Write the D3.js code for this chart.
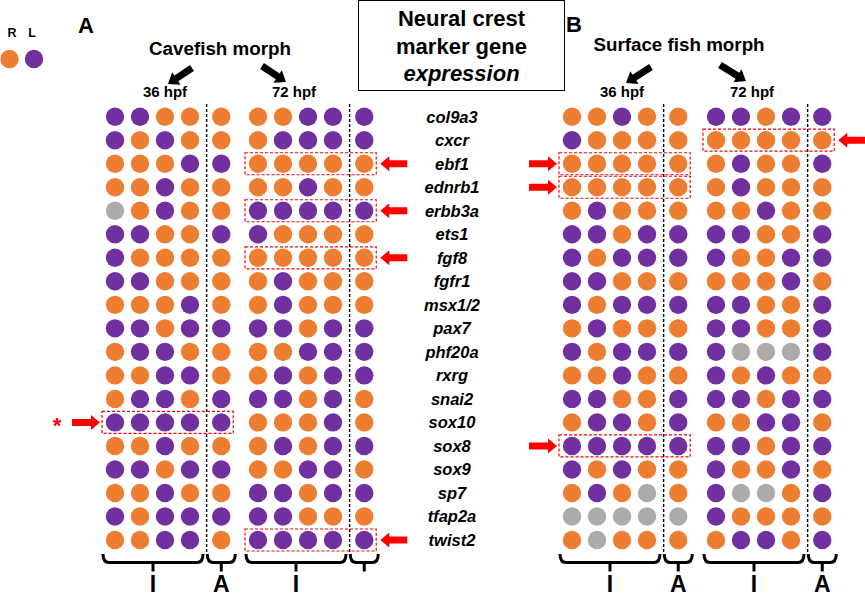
<!DOCTYPE html>
<html>
<head>
<meta charset="utf-8">
<script src="https://cdn.jsdelivr.net/npm/d3@7"></script>
<style>
  body { margin: 0; background: #fff; }
  svg { display: block; font-family: 'Liberation Sans', Arial, sans-serif; }
</style>
</head>
<body>
<svg id="chart" width="865" height="598"></svg>
<script>
// R = right (orange), L = left (purple), N = no call (grey)
// each string: 4 individual fish (I) then the pooled sample (A)
const genes = ['col9a3', 'cxcr', 'ebf1', 'ednrb1', 'erbb3a', 'ets1', 'fgf8', 'fgfr1', 'msx1/2',
  'pax7', 'phf20a', 'rxrg', 'snai2', 'sox10', 'sox8', 'sox9', 'sp7', 'tfap2a', 'twist2'];

const cave36 = ['LLRRR', 'LRLRR', 'RRRLL', 'RRLRR', 'NRLRR', 'LLRRL', 'LRRRR', 'LLRRR', 'RRRLR',
  'LLRLL', 'RLLRR', 'RRLLR', 'RLLRL', 'LLLLL', 'RRLRR', 'LLRLL', 'RRLRR', 'LRLLL', 'RRLLR'];
const cave72 = ['RRLLL', 'RLLLL', 'RRRRR', 'RRLRR', 'LLLLL', 'LRRRR', 'RRRRR', 'RLRRR', 'RLRRR',
  'LLRLL', 'RRLLL', 'RLRLL', 'LLRLR', 'RRRLR', 'RLRLL', 'RRLLR', 'LLRLL', 'LLRRR', 'LLLLL'];
const surf36 = ['RRLRR', 'LRRRR', 'RRRRR', 'RRRRR', 'RLRRR', 'LLRLL', 'LRLLL', 'LLRRR', 'LRLLL',
  'RLRRR', 'LRLLL', 'RRLRR', 'LLRRL', 'RLLRL', 'LLLLL', 'LRLRR', 'RLRNR', 'NNNNN', 'RNRRR'];
const surf72 = ['LLRLL', 'RRRRR', 'RLRRL', 'RLRRR', 'RRLRR', 'LLRRL', 'LRRLL', 'RRRLR', 'LLRRL',
  'LLRRL', 'LNNNL', 'LRLRR', 'LLRLL', 'RRLLR', 'LLRLL', 'LRRLR', 'LNNRL', 'LRRRR', 'RLLRL'];

// rows that keep the same side in every sample
const cave36Boxes = ['sox10'];
const cave72Boxes = ['ebf1', 'erbb3a', 'fgf8', 'twist2'];
const surf36Boxes = ['ebf1', 'ednrb1', 'sox8'];
const surf72Boxes = ['cxcr'];

const sideKeys = ['R', 'L', 'N'];
const groupLabels = ['I', 'A'];

const svg = d3.select('#chart');
const color = d3.scaleOrdinal().domain(sideKeys).range(['#ED7D31', '#7030A0', '#AEAAAA']);
const y = d3.scalePoint().domain(genes).range([116.7, 540]);

const blocks = [
  { data: cave36, boxes: cave36Boxes, x0: 115, arrow: 'left', labels: groupLabels },
  { data: cave72, boxes: cave72Boxes, x0: 258, arrow: 'right', labels: ['I', ''] },
  { data: surf36, boxes: surf36Boxes, x0: 572, arrow: 'left', labels: groupLabels },
  { data: surf72, boxes: surf72Boxes, x0: 716, arrow: 'right', labels: groupLabels }
];

// polygon for a block arrow from (x1,y1) to (x2,y2)
function arrowPath (x1, y1, x2, y2, shaft, head, headLen) {
  let dx = x2 - x1, dy = y2 - y1;
  let len = Math.hypot(dx, dy);
  let ux = dx / len, uy = dy / len;
  let px = -uy, py = ux;
  let nx = x2 - ux * headLen, ny = y2 - uy * headLen;
  let pts = [
    [x1 + px * shaft / 2, y1 + py * shaft / 2],
    [nx + px * shaft / 2, ny + py * shaft / 2],
    [nx + px * head / 2, ny + py * head / 2],
    [x2, y2],
    [nx - px * head / 2, ny - py * head / 2],
    [nx - px * shaft / 2, ny - py * shaft / 2],
    [x1 - px * shaft / 2, y1 - py * shaft / 2]
  ];
  return 'M' + pts.map(p => p.join(',')).join('L') + 'Z';
}

function bracketPath (x1, x2, top, line) {
  let xc = (x1 + x2) / 2;
  return 'M' + x1 + ',' + top + 'Q' + x1 + ',' + line + ' ' + (x1 + 6) + ',' + line +
    'L' + (x2 - 6) + ',' + line + 'Q' + x2 + ',' + line + ' ' + x2 + ',' + top +
    'M' + xc + ',' + line + 'L' + xc + ',' + (line + 9);
}

blocks.forEach(b => {
  // columns 0-3 are the individuals, the pooled column sits after a gap
  let x = d3.scaleLinear().domain([0, 3]).range([b.x0, b.x0 + 75]);
  let colIdx = [0, 1, 2, 3, 4.25];
  let xA = x(4.25);
  let g = svg.append('g');

  // dashed separator between I and A
  let xSep = (x(3) + xA) / 2 + 1;
  g.append('line')
    .attr('x1', xSep).attr('x2', xSep)
    .attr('y1', 104).attr('y2', 553)
    .attr('stroke', '#000').attr('stroke-width', 1.4)
    .attr('stroke-dasharray', '3,2');

  let cells = [];
  b.data.forEach((row, i) => {
    row.split('').forEach((s, j) => cells.push({ gene: genes[i], col: colIdx[j], side: s }));
  });
  g.selectAll('circle').data(cells).enter().append('circle')
    .attr('cx', d => x(d.col))
    .attr('cy', d => y(d.gene))
    .attr('r', 9.2)
    .attr('fill', d => color(d.side));

  // red highlight boxes + arrows
  let bx1 = x(0) - 13, bx2 = xA + 12;
  g.selectAll('rect.hl').data(b.boxes).enter().append('rect')
    .attr('class', 'hl')
    .attr('x', bx1).attr('y', d => y(d) - 11)
    .attr('width', bx2 - bx1).attr('height', 22)
    .attr('fill', 'none').attr('stroke', '#FF0000')
    .attr('stroke-width', 1.2).attr('stroke-dasharray', '3,2');

  g.selectAll('path.red').data(b.boxes).enter().append('path')
    .attr('class', 'red')
    .attr('fill', '#FF0000')
    .attr('d', d => b.arrow === 'left'
      ? arrowPath(bx1 - 30, y(d), bx1 - 2, y(d), 7, 15, 9)
      : arrowPath(bx2 + 31, y(d), bx2 + 4, y(d), 7, 15, 9));

  // brackets at the bottom
  let spans = [[x(0) - 12, x(3) + 13], [xA - 14, xA + 14]];
  spans.forEach((s, k) => {
    g.append('path')
      .attr('d', bracketPath(s[0], s[1], 554, 562.5))
      .attr('fill', 'none').attr('stroke', '#000').attr('stroke-width', 3);
    g.append('text')
      .attr('x', (s[0] + s[1]) / 2).attr('y', 592)
      .attr('text-anchor', 'middle')
      .attr('font-size', 23).attr('font-weight', 'bold')
      .text(b.labels[k]);
  });
});

// star next to the sox10 arrow in A
svg.append('text')
  .attr('x', 57).attr('y', y('sox10') + 11)
  .attr('text-anchor', 'middle')
  .attr('fill', '#FF0000').attr('font-size', 22).attr('font-weight', 'bold')
  .text('*');

// gene names
svg.append('g').selectAll('text').data(genes).enter().append('text')
  .attr('x', 452).attr('y', d => y(d))
  .attr('dy', '0.36em')
  .attr('text-anchor', 'middle')
  .attr('font-size', 16.5).attr('font-weight', 'bold').attr('font-style', 'italic')
  .text(d => d);

// legend
svg.selectAll('circle.leg').data(['R', 'L']).enter().append('circle')
  .attr('class', 'leg')
  .attr('cx', (d, i) => 9.5 + i * 24.5).attr('cy', 59)
  .attr('r', 9.2)
  .attr('fill', d => color(d));
svg.selectAll('text.leg').data(['R', 'L']).enter().append('text')
  .attr('class', 'leg')
  .attr('x', (d, i) => 12 + i * 20).attr('y', 37)
  .attr('text-anchor', 'middle')
  .attr('font-size', 12.5).attr('font-weight', 'bold')
  .text(d => d);

// title box
svg.append('rect')
  .attr('x', 358.5).attr('y', 0.5).attr('width', 206).attr('height', 90)
  .attr('fill', 'none').attr('stroke', '#000').attr('stroke-width', 1);
[['Neural crest', 26, 'normal'], ['marker gene', 54, 'normal'], ['expression', 81, 'italic']]
  .forEach(t => {
    svg.append('text')
      .attr('x', 461.5).attr('y', t[1])
      .attr('text-anchor', 'middle')
      .attr('font-size', 22).attr('font-weight', 'bold').attr('font-style', t[2])
      .text(t[0]);
  });

// panel headers
function header (letter, lx, ly, title, tx, ty, h36, h72) {
  svg.append('text').attr('x', lx).attr('y', ly)
    .attr('font-size', 22).attr('font-weight', 'bold').text(letter);
  svg.append('text').attr('x', tx).attr('y', ty)
    .attr('text-anchor', 'middle')
    .attr('font-size', 18.8).attr('font-weight', 'bold').text(title);
  [[h36, '36 hpf'], [h72, '72 hpf']].forEach(h => {
    svg.append('text').attr('x', h[0]).attr('y', 97)
      .attr('text-anchor', 'middle')
      .attr('font-size', 15).attr('font-weight', 'bold').text(h[1]);
  });
}
header('A', 78, 33, 'Cavefish morph', 220, 55, 165, 294);
header('B', 566, 32, 'Surface fish morph', 679, 51, 622, 752);

// black arrows pointing to each time point
[[192, 68, 168, 84], [262, 66, 286, 82], [651, 67, 626, 83], [720, 65, 746, 81]]
  .forEach(a => {
    svg.append('path')
      .attr('d', arrowPath(a[0], a[1], a[2], a[3], 7, 15, 10))
      .attr('fill', '#000');
  });
</script>
</body>
</html>
